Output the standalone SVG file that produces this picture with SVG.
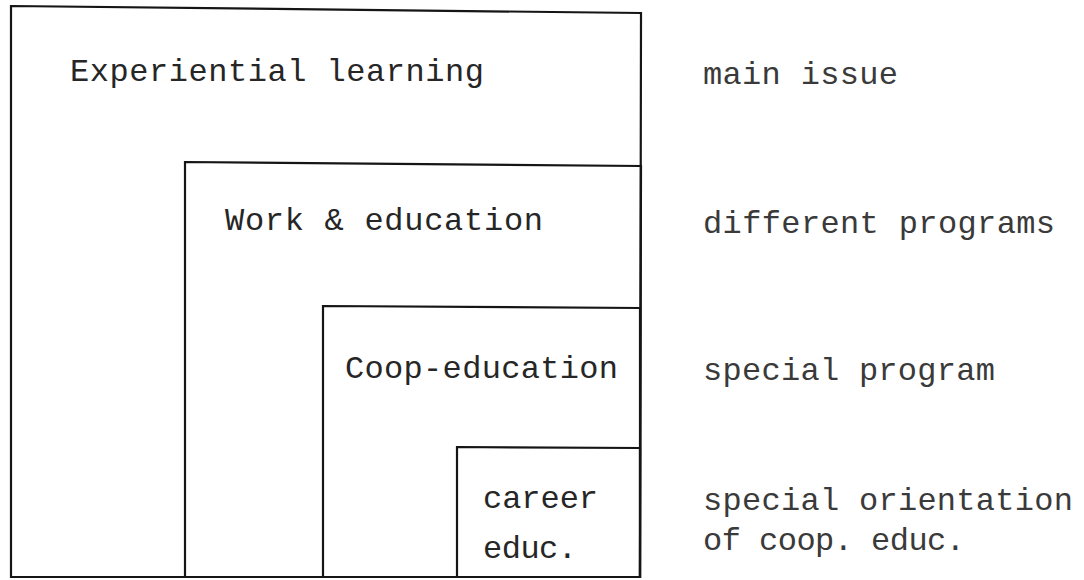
<svg xmlns="http://www.w3.org/2000/svg" width="1084" height="580" viewBox="0 0 1084 580">
<style>
.box{fill:none;stroke:#151515;stroke-width:2.2}
.lbl{font-family:"Liberation Mono","Courier New",monospace;font-size:32px;fill:#262626}
.side{font-family:"Liberation Mono","Courier New",monospace;font-size:32px;fill:#3a3a3a}
</style>
<rect width="1084" height="580" fill="#ffffff"/>
<g id="connectors"></g>
<g id="experiential">
<path class="box" d="M11 6 L641 13 L640 577 L11 577 Z"/>
<text class="lbl" x="70" y="81" textLength="414">Experiential learning</text>
</g>
<g id="work-education">
<path class="box" d="M185 162 L641 166 L640 577 L185 577 Z"/>
<text class="lbl" x="225" y="230" textLength="318">Work &amp; education</text>
</g>
<g id="coop-education">
<path class="box" d="M323 306 L640 308 L640 577 L323 577 Z"/>
<text class="lbl" x="345" y="378" textLength="273">Coop-education</text>
</g>
<g id="career-educ">
<path class="box" d="M457 447 L640 448 L640 577 L457 577 Z"/>
<text class="lbl" x="483" y="508" textLength="115">career</text>
<text class="lbl" x="483" y="558" textLength="94">educ.</text>
</g>
<g id="side-labels">
<text class="side" x="703" y="84" textLength="195">main issue</text>
<text class="side" x="703" y="233" textLength="352">different programs</text>
<text class="side" x="703" y="380" textLength="292">special program</text>
<text class="side" x="703" y="510" textLength="370">special orientation</text>
<text class="side" x="703" y="550" textLength="262">of coop. educ.</text>
</g>
</svg>
